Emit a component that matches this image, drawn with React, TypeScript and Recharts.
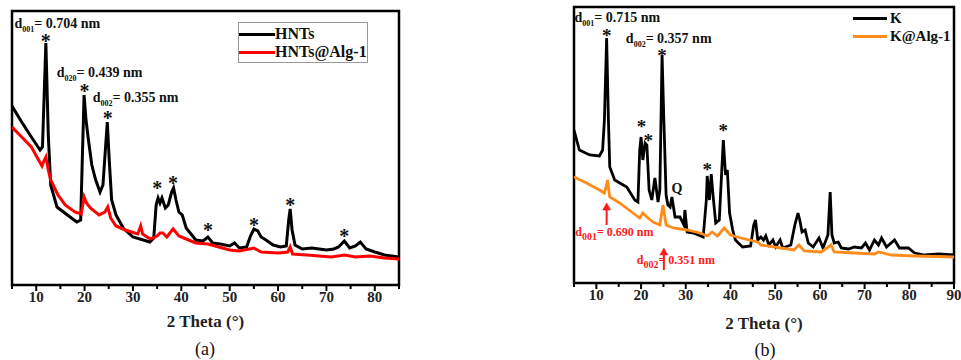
import React from "react"
import {
  LineChart,
  Line,
  XAxis,
  YAxis,
  ReferenceArea,
  ReferenceDot,
  Legend
} from "recharts"

const FONT = "'Liberation Serif', 'Times New Roman', serif"

// (a) halloysite nanotubes, intensity in arbitrary units
const hntsTheta = [
  5, 7, 9, 10.8, 11.3, 12.0, 12.5, 13.0, 14.3, 17, 18.4, 19.2, 19.5, 19.9, 20.3,
  20.8, 21.5, 22.3, 23.2, 23.8, 24.3, 24.7, 25.1, 25.6, 26.5, 28, 30, 33.5, 34.3,
  34.8, 35.2, 35.6, 36.0, 36.7, 37.3, 38.0, 38.4, 38.9, 39.5, 40.2, 41.0, 43, 44.5,
  45.5, 46.5, 48, 50, 51, 52, 53.5, 54.3, 55.0, 55.8, 56.5, 57.5, 59, 60.5, 61.7,
  62.2, 62.5, 62.9, 63.5, 65, 67, 68.5, 70, 71.5, 72.5, 73.7, 74.8, 76, 77, 78.2,
  80, 82, 85
]
const hntsCounts = [
  179, 163, 148, 135, 138, 242, 150, 100, 78, 68, 63, 65, 120, 190, 165,
  145, 120, 105, 93, 100, 135, 163, 125, 85, 70, 57, 48, 43, 47,
  80, 87, 82, 87, 77, 80, 93, 97, 85, 73, 70, 57, 45, 44,
  48, 42, 41, 39, 42, 37, 38, 49, 56, 54, 48, 45, 40, 38, 39,
  65, 76, 55, 40, 36, 37, 36, 35, 36, 38, 44, 37, 39, 43, 36,
  33, 30, 28
]
const hntsAlgTheta = [
  5, 7, 9, 10.5, 11.2, 11.6, 12.0, 12.5, 13, 14.5, 16, 18, 19.3, 19.9, 20.4, 21.2,
  23, 24.2, 24.8, 25.4, 26.5, 28.4, 31, 31.6, 32, 33.6, 35, 35.6, 36.2, 37, 38.3,
  39.5, 40.5, 43, 45.5, 47, 50, 52, 55, 56.5, 60, 62, 62.5, 63, 66, 71, 73.8, 76,
  79, 82, 85
]
const hntsAlgCounts = [
  158, 148, 138, 125, 119, 124, 128, 115, 105, 90, 80, 73, 71, 88, 82, 77,
  70, 73, 78, 67, 59, 55, 51, 59, 51, 46, 49, 52, 52, 48, 56,
  49, 47, 42, 41, 39, 35, 34, 37, 33, 32, 33, 38, 31, 30, 28, 30, 28,
  29, 27, 26
]

// (b) kaolinite
const kTheta = [
  5, 6.2, 8.5, 10.7, 11.4, 11.8, 12.3, 12.7, 13.0, 14.1, 16.8, 18.6, 19.3, 19.7,
  20.0, 20.4, 20.9, 21.3, 21.8, 22.4, 23.1, 23.8, 24.2, 24.7, 25.1, 25.6, 26.0,
  26.5, 26.9, 27.6, 28.7, 29.6, 29.8, 30.3, 31.7, 33.9, 34.6, 34.8, 35.3, 35.7,
  36.2, 36.7, 37.5, 38.0, 38.4, 38.9, 39.3, 39.8, 40.5, 41.1, 42.7, 44.5, 45.2,
  45.6, 46.1, 46.8, 47.4, 47.9, 48.6, 49.5, 50.1, 51.1, 51.7, 53.5, 54.4, 55.1,
  55.5, 56.0, 56.7, 57.4, 58.5, 59.8, 60.7, 61.8, 62.3, 62.7, 63.2, 64.1, 64.8,
  66.4, 67.7, 69.3, 70.2, 71.1, 72.2, 73.1, 73.8, 74.9, 76.7, 77.8, 79.8, 81.2,
  83.4, 86.6, 90
]
const kCounts = [
  153, 133, 128, 127, 133, 163, 245, 163, 116, 103, 96, 83, 81, 133,
  146, 123, 140, 138, 93, 83, 105, 81, 93, 228, 163, 88, 78,
  76, 86, 66, 66, 58, 73, 51, 50, 46, 83, 107, 83, 109,
  83, 60, 63, 108, 143, 108, 113, 70, 53, 43, 36, 37, 58,
  63, 43, 46, 43, 47, 38, 43, 36, 43, 35, 38, 58, 70,
  63, 51, 53, 40, 36, 45, 35, 48, 91, 48, 40, 41, 35,
  34, 36, 35, 40, 33, 43, 38, 45, 36, 43, 35, 35, 30,
  28, 29, 28
]
const kAlgTheta = [
  5, 7.8, 10.7, 11.8, 12.3, 12.5, 13.0, 15.2, 18.2, 19.7, 20.4, 21.3, 22.7, 24.2,
  24.9, 25.6, 27.2, 30.3, 33.2, 34.8, 35.9, 37.1, 38.6, 40.0, 42.3, 46.1, 46.8,
  51.3, 54.2, 55.3, 56.5, 60.3, 62.5, 63.2, 67.7, 72.2, 73.1, 76.0, 81.2, 90
]
const kAlgCounts = [
  106, 100, 93, 90, 98, 103, 86, 80, 70, 65, 70, 66, 61, 58,
  78, 58, 55, 53, 50, 47, 51, 47, 55, 48, 45, 41, 38,
  35, 33, 38, 32, 31, 38, 31, 30, 29, 31, 28, 27, 26
]

const ticksA = [5, 10, 15, 20, 25, 30, 35, 40, 45, 50, 55, 60, 65, 70, 75, 80, 85]
const ticksB = [5, 10, 15, 20, 25, 30, 35, 40, 45, 50, 55, 60, 65, 70, 75, 80, 85, 90]

// annotations (2 theta, intensity)
const starsA = [
  { x: 12, y: 247 }, { x: 20, y: 197 }, { x: 24.8, y: 170 }, { x: 35, y: 100 },
  { x: 38.3, y: 105 }, { x: 45.5, y: 58 }, { x: 55, y: 63 }, { x: 62.5, y: 83 },
  { x: 73.7, y: 52 }
]
const labelsA = [
  { x: 5.5, y: 262, sub: "001", text: "= 0.704 nm" },
  { x: 14.25, y: 213, sub: "020", text: "= 0.439 nm" },
  { x: 21.7, y: 188, sub: "002", text: "= 0.355 nm" }
]
const starsB = [
  { x: 12.3, y: 250 }, { x: 24.7, y: 230 }, { x: 20.1, y: 159 }, { x: 21.6, y: 145 },
  { x: 34.8, y: 116 }, { x: 38.4, y: 155 }
]
const labelsB = [
  { x: 5.1, y: 266, sub: "001", text: "= 0.715 nm" },
  { x: 16.6, y: 245, sub: "002", text: "= 0.357 nm" }
]
const redLabelsB = [
  { x: 5.3, y: 51, sub: "001", text: "= 0.690 nm" },
  { x: 19.05, y: 23, sub: "002", text: "= 0.351 nm" }
]
const arrowsB = [
  { x: 12.3, y: 80 },
  { x: 25.1, y: 35 }
]

const zip = (xs: number[], ys: number[]) => xs.map((x, i) => ({ theta: x, counts: ys[i] }))

const AxisTick = ({ x, y, payload }: any) => {
  const major = payload.value % 10 === 0
  return (
    <g>
      <line x1={x} y1={y} x2={x} y2={y + (major ? 6 : 4)} stroke="#000" strokeWidth={2} />
      {major && (
        <text x={x} y={y + 17} textAnchor="middle" fontSize={15} fontWeight="bold" fontFamily={FONT} fill="#222">
          {payload.value}
        </text>
      )}
    </g>
  )
}

const Star = ({ cx, cy, size = 20 }: any) => (
  <text x={cx} y={cy + size * 0.48} textAnchor="middle" fontSize={size} fontWeight="bold" fontFamily={FONT} fill="#111">
    *
  </text>
)

const DLabel = ({ cx, cy, sub, text, color = "#111", size = 14, subSize = 8 }: any) => (
  <text x={cx} y={cy + size * 0.35} fontSize={size} fontWeight="bold" fontFamily={FONT} fill={color}>
    d
    <tspan fontSize={subSize} dy={size * 0.3}>{sub}</tspan>
    <tspan dy={-size * 0.3}>{text}</tspan>
  </text>
)

const Arrow = ({ cx, cy }: any) => (
  <g stroke="#ff1a1a" fill="#ff1a1a">
    <line x1={cx} y1={cy + 22} x2={cx} y2={cy + 6} strokeWidth={2} />
    <polygon points={`${cx},${cy} ${cx - 4},${cy + 7} ${cx + 4},${cy + 7}`} strokeWidth={0.5} />
  </g>
)

const LegendA = ({ payload }: any) => (
  <div
    style={{
      border: "1px solid #999",
      width: 128,
      height: 37,
      paddingTop: 2,
      fontFamily: FONT,
      fontWeight: "bold",
      fontSize: 16,
      background: "#fff",
      whiteSpace: "nowrap"
    }}>
    {(payload || []).map((e: any) => (
      <div key={e.value} style={{ display: "flex", alignItems: "center", height: 18 }}>
        <span style={{ width: 36, height: 3, background: e.color, display: "inline-block", flex: "none" }} />
        <span style={{ color: "#111", lineHeight: "18px" }}>{e.value}</span>
      </div>
    ))}
  </div>
)

const LegendB = ({ payload }: any) => (
  <div style={{ fontFamily: FONT, fontWeight: "bold", fontSize: 15, whiteSpace: "nowrap" }}>
    {(payload || []).map((e: any) => (
      <div key={e.value} style={{ display: "flex", alignItems: "center", height: 18 }}>
        <span style={{ width: 34, height: 3, background: e.color, display: "inline-block", flex: "none" }} />
        <span style={{ marginLeft: 3, color: "#111", lineHeight: "18px" }}>{e.value}</span>
      </div>
    ))}
  </div>
)

const axisLabel = (value: string) => ({
  value,
  position: "insideBottom" as const,
  offset: 0,
  fontSize: 17,
  fontWeight: "bold",
  fontFamily: FONT,
  fill: "#222"
})

const PanelA = () => (
  <LineChart width={420} height={360} margin={{ top: 11, right: 21, left: 12, bottom: 33 }}>
    <XAxis
      dataKey="theta"
      type="number"
      domain={[5, 85]}
      ticks={ticksA}
      interval={0}
      tickSize={0}
      tickMargin={0}
      tickLine={false}
      axisLine={false}
      height={42}
      tick={<AxisTick />}
      label={axisLabel("2 Theta (°)")}
      allowDataOverflow
    />
    <YAxis type="number" domain={[0, 274]} hide allowDataOverflow />
    <Line
      data={zip(hntsTheta, hntsCounts)}
      dataKey="counts"
      name="HNTs"
      stroke="#000"
      strokeWidth={3}
      dot={false}
      isAnimationActive={false}
    />
    <Line
      data={zip(hntsAlgTheta, hntsAlgCounts)}
      dataKey="counts"
      name="HNTs@Alg-1"
      stroke="#ff0000"
      strokeWidth={3}
      dot={false}
      isAnimationActive={false}
    />
    <ReferenceArea x1={5} x2={85} y1={0} y2={274} fill="none" stroke="#000" strokeWidth={2.5} ifOverflow="visible" />
    {starsA.map((s, i) => (
      <ReferenceDot key={`sa${i}`} x={s.x} y={s.y} r={1} shape={(p: any) => <Star {...p} />} />
    ))}
    {labelsA.map((l, i) => (
      <ReferenceDot key={`la${i}`} x={l.x} y={l.y} r={1} shape={(p: any) => <DLabel {...p} sub={l.sub} text={l.text} />} />
    ))}
    <Legend
      layout="vertical"
      align="center"
      verticalAlign="middle"
      wrapperStyle={{ left: 238, top: 22, width: 130 }}
      content={<LegendA />}
    />
  </LineChart>
)

const PanelB = () => (
  <LineChart width={401} height={360} margin={{ top: 7, right: 7, left: 14, bottom: 31 }}>
    <XAxis
      dataKey="theta"
      type="number"
      domain={[5, 90]}
      ticks={ticksB}
      interval={0}
      tickSize={0}
      tickMargin={0}
      tickLine={false}
      axisLine={false}
      height={46}
      tick={<AxisTick />}
      label={axisLabel("2 Theta (°)")}
      allowDataOverflow
    />
    <YAxis type="number" domain={[0, 276]} hide allowDataOverflow />
    <Line
      data={zip(kTheta, kCounts)}
      dataKey="counts"
      name="K"
      stroke="#000"
      strokeWidth={2.8}
      dot={false}
      isAnimationActive={false}
    />
    <Line
      data={zip(kAlgTheta, kAlgCounts)}
      dataKey="counts"
      name="K@Alg-1"
      stroke="#ff8c1a"
      strokeWidth={2.8}
      dot={false}
      isAnimationActive={false}
    />
    <ReferenceArea x1={5} x2={90} y1={0} y2={276} fill="none" stroke="#000" strokeWidth={2.5} ifOverflow="visible" />
    {starsB.map((s, i) => (
      <ReferenceDot key={`sb${i}`} x={s.x} y={s.y} r={1} shape={(p: any) => <Star {...p} size={19} />} />
    ))}
    {labelsB.map((l, i) => (
      <ReferenceDot key={`lb${i}`} x={l.x} y={l.y} r={1} shape={(p: any) => <DLabel {...p} sub={l.sub} text={l.text} />} />
    ))}
    {redLabelsB.map((l, i) => (
      <ReferenceDot
        key={`rb${i}`}
        x={l.x}
        y={l.y}
        r={1}
        shape={(p: any) => <DLabel {...p} sub={l.sub} text={l.text} color="#ff1a1a" size={12} subSize={10} />}
      />
    ))}
    {arrowsB.map((a, i) => (
      <ReferenceDot key={`ab${i}`} x={a.x} y={a.y} r={1} shape={(p: any) => <Arrow {...p} />} />
    ))}
    <ReferenceDot
      x={28.0}
      y={95}
      r={1}
      shape={(p: any) => (
        <text x={p.cx} y={p.cy + 5} textAnchor="middle" fontSize={14} fontWeight="bold" fontFamily={FONT} fill="#111">
          Q
        </text>
      )}
    />
    <Legend
      layout="vertical"
      align="center"
      verticalAlign="middle"
      wrapperStyle={{ left: 293, top: 9, width: 100 }}
      content={<LegendB />}
    />
  </LineChart>
)

const captionStyle: React.CSSProperties = {
  position: "absolute",
  top: 340,
  width: 40,
  textAlign: "center",
  fontFamily: FONT,
  fontSize: 18,
  lineHeight: "18px",
  color: "#111"
}

export default function App() {
  return (
    <div style={{ position: "absolute", left: 0, top: 0, width: 961, height: 360, background: "#fff", overflow: "hidden" }}>
      <div style={{ position: "absolute", left: 0, top: 0 }}>
        <PanelA />
      </div>
      <div style={{ position: "absolute", left: 560, top: 0 }}>
        <PanelB />
      </div>
      <div style={{ ...captionStyle, left: 185 }}>(a)</div>
      <div style={{ ...captionStyle, left: 745, top: 341 }}>(b)</div>
    </div>
  )
}
